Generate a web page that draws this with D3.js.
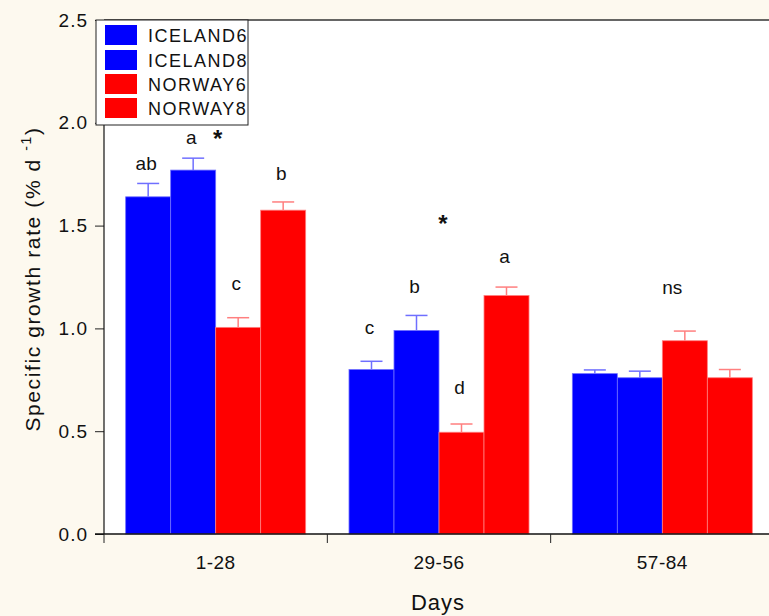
<!DOCTYPE html>
<html><head><meta charset="utf-8">
<script src="https://cdnjs.cloudflare.com/ajax/libs/d3/7.8.5/d3.min.js"></script>
<style>body{margin:0;background:#fdf9ef;} svg{display:block;}</style>
</head><body>
<svg id="c" width="769" height="616"></svg>
<script>
const categories = ["1-28", "29-56", "57-84"];
const seriesNames = ["ICELAND6", "ICELAND8", "NORWAY6", "NORWAY8"];
const seriesColors = ["#0000ff", "#0000ff", "#ff0000", "#ff0000"];
const edgeColors = ["#6f6fff", "#6f6fff", "#ff7f7f", "#ff7f7f"];
const ICELAND6 = [1.64, 0.80, 0.78];
const ICELAND8 = [1.77, 0.99, 0.76];
const NORWAY6 = [1.005, 0.495, 0.94];
const NORWAY8 = [1.575, 1.16, 0.76];
const ICELAND6_err = [0.065, 0.04, 0.018];
const ICELAND8_err = [0.058, 0.073, 0.032];
const NORWAY6_err = [0.047, 0.04, 0.047];
const NORWAY8_err = [0.04, 0.041, 0.04];
const letters = [["ab", "a", "c", "b"], ["c", "b", "d", "a"], ["", "", "", ""]];
const letterLevels = [[1.77, 1.897, 1.187, 1.722], [0.973, 1.174, 0.681, 1.318], [0, 0, 0, 0]];
const yTicks = [0, 0.5, 1.0, 1.5, 2.0, 2.5];

const values = [ICELAND6, ICELAND8, NORWAY6, NORWAY8];
const errs = [ICELAND6_err, ICELAND8_err, NORWAY6_err, NORWAY8_err];

const svg = d3.select("#c");
const L = 104, R = 774, T = 20, B = 534;
const y = d3.scaleLinear().domain([0, 2.5]).range([B, T]);
const x0 = d3.scaleBand().domain(categories).range([L, R]).paddingInner(0.194).paddingOuter(0.097);
const x1 = d3.scaleBand().domain(seriesNames).range([0, x0.bandwidth()]);
const font = "'Liberation Sans', Arial, sans-serif";

// plot background
svg.append("rect").attr("x", L).attr("y", T).attr("width", 769 - L).attr("height", B - T).attr("fill", "#fff");

// bars
const data = [];
categories.forEach((c, gi) => seriesNames.forEach((s, si) => data.push({c, s, si, gi, v: values[si][gi], e: errs[si][gi]})));
const g = svg.append("g");
g.selectAll("rect.bar").data(data).enter().append("rect")
  .attr("x", d => x0(d.c) + x1(d.s)).attr("y", d => y(d.v))
  .attr("width", x1.bandwidth()).attr("height", d => y(0) - y(d.v))
  .attr("fill", d => seriesColors[d.si]).attr("stroke", d => edgeColors[d.si]).attr("stroke-width", 0.8);
// error bars
const eb = g.selectAll("g.err").data(data).enter().append("g")
  .attr("stroke", d => edgeColors[d.si]).attr("stroke-width", 1.5);
eb.append("line").attr("x1", d => x0(d.c) + x1(d.s) + x1.bandwidth() / 2).attr("x2", d => x0(d.c) + x1(d.s) + x1.bandwidth() / 2)
  .attr("y1", d => y(d.v)).attr("y2", d => y(d.v + d.e));
eb.append("line").attr("x1", d => x0(d.c) + x1(d.s) + x1.bandwidth() / 2 - 11).attr("x2", d => x0(d.c) + x1(d.s) + x1.bandwidth() / 2 + 11)
  .attr("y1", d => y(d.v + d.e)).attr("y2", d => y(d.v + d.e));

// letters
g.selectAll("text.let").data(data.filter(d => letters[d.gi][d.si])).enter().append("text")
  .attr("x", d => x0(d.c) + x1(d.s) + x1.bandwidth() / 2 - 2)
  .attr("y", d => y(letterLevels[d.gi][d.si]))
  .attr("text-anchor", "middle").attr("font-family", font).attr("font-size", 19).attr("fill", "#111")
  .text(d => letters[d.gi][d.si]);
// asterisks & ns
const notes = [
  {t: "*", x: x0("1-28") + x1("NORWAY6") + 2, v: 1.88, s: 24},
  {t: "*", x: x0("29-56") + x1("NORWAY6") + 4, v: 1.47, s: 24},
  {t: "ns", x: x0("57-84") + x1("NORWAY6") + 10, v: 1.165, s: 19}
];
g.selectAll("text.note").data(notes).enter().append("text")
  .attr("x", d => d.x).attr("y", d => y(d.v)).attr("text-anchor", "middle").attr("fill", "#111")
  .attr("font-family", font).attr("font-size", d => d.s).attr("font-weight", d => d.t === "*" ? "bold" : "normal").text(d => d.t);

// axes
const yAxis = d3.axisLeft(y).tickValues(yTicks).tickFormat(d3.format(".1f")).tickSize(9).tickPadding(7);
const ya = svg.append("g").attr("transform", `translate(${L},0)`).call(yAxis);
ya.selectAll("text").attr("font-family", font).attr("font-size", 19).attr("letter-spacing", 1).attr("fill", "#111");
ya.select(".domain").remove();
ya.selectAll("line").attr("stroke", "#222");
svg.append("line").attr("x1", L).attr("x2", L).attr("y1", T).attr("y2", B).attr("stroke", "#111").attr("stroke-width", 1.2);
svg.append("line").attr("x1", L).attr("x2", 769).attr("y1", T).attr("y2", T).attr("stroke", "#333").attr("stroke-width", 1.5);
svg.append("line").attr("x1", L - 9).attr("x2", 769).attr("y1", B).attr("y2", B).attr("stroke", "#111").attr("stroke-width", 1.5);

const xa = svg.append("g").attr("transform", `translate(0,${B})`).call(d3.axisBottom(x0).tickSize(0).tickPadding(22));
xa.select(".domain").remove();
xa.selectAll("text").attr("font-family", font).attr("font-size", 19).attr("letter-spacing", 0.5).attr("fill", "#111");
const sep = [0, 1, 2].map(i => L + i * x0.step());
svg.selectAll("line.sep").data(sep).enter().append("line")
  .attr("x1", d => d).attr("x2", d => d).attr("y1", B).attr("y2", B + 9).attr("stroke", "#222");

// titles
svg.append("text").attr("x", 438).attr("y", 610).attr("text-anchor", "middle")
  .attr("font-family", font).attr("font-size", 22).attr("letter-spacing", 1).attr("fill", "#111").text("Days");
const yt = svg.append("text").attr("transform", "translate(40,279) rotate(-90)").attr("text-anchor", "middle")
  .attr("font-family", font).attr("font-size", 21).attr("letter-spacing", 1.6).attr("fill", "#111");
yt.append("tspan").text("Specific growth rate (% d  ");
yt.append("tspan").attr("font-size", 14).attr("dy", -9).text("-1");
yt.append("tspan").attr("dy", 9).text(")");

// legend
const lg = svg.append("g");
lg.append("rect").attr("x", 96).attr("y", 20).attr("width", 152).attr("height", 105)
  .attr("fill", "#fff").attr("stroke", "#222").attr("stroke-width", 1);
const rowsY = [25, 50, 74, 98];
const li = lg.selectAll("g.li").data(seriesNames).enter().append("g");
li.append("rect").attr("x", 105).attr("y", (d, i) => rowsY[i]).attr("width", 32).attr("height", 20)
  .attr("fill", (d, i) => seriesColors[i]);
li.append("text").attr("x", 148).attr("y", (d, i) => rowsY[i] + 17)
  .attr("font-family", font).attr("font-size", 18).attr("letter-spacing", 1.5).attr("fill", "#111").text(d => d);
</script>
</body></html>
